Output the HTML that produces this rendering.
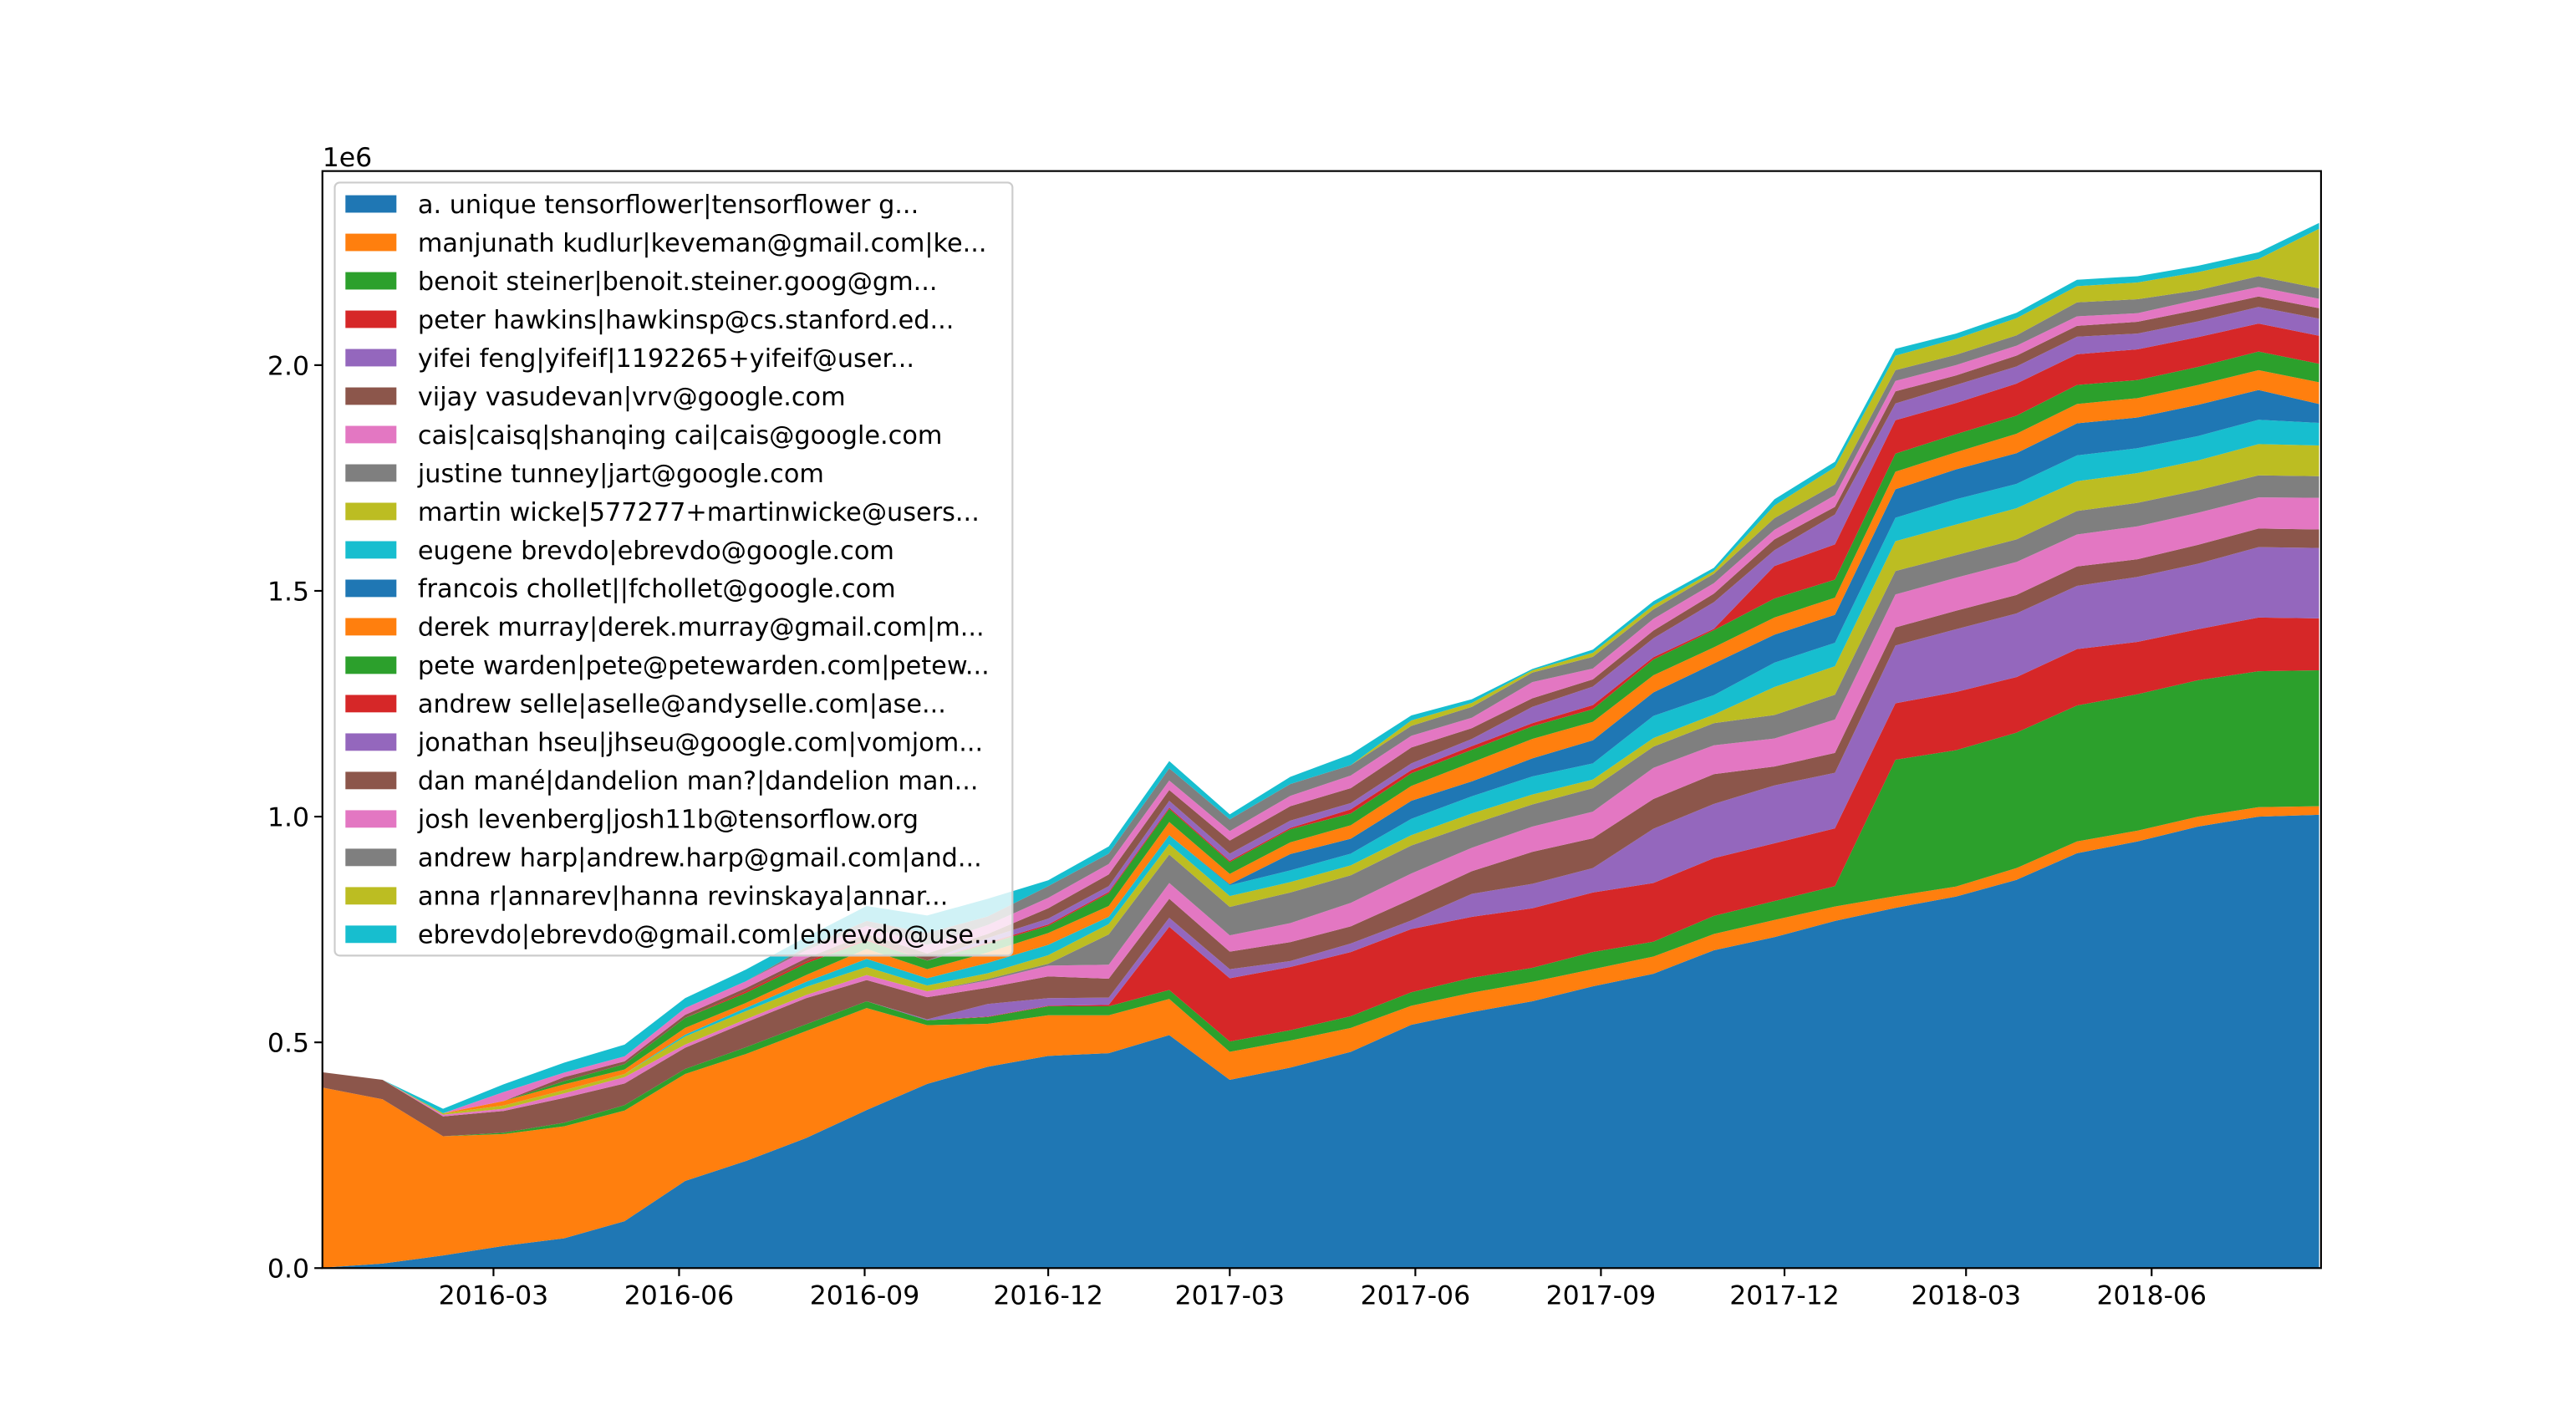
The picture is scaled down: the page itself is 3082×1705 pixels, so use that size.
<!DOCTYPE html>
<html><head><meta charset="utf-8"><style>
html,body{margin:0;padding:0;background:#fff;}
svg{display:block;font-family:"DejaVu Sans","Liberation Sans",sans-serif;}
</style></head><body>
<svg id="chart" width="3082" height="1705" viewBox="0 0 1566 866.4" preserveAspectRatio="none" xmlns="http://www.w3.org/2000/svg">
<rect x="0" y="0" width="1566" height="866.4" fill="#fff"/>
<g id="areas"></g>
<g id="axes"></g>
<g id="legend"></g>
</svg>
<script>
const dates = ["2015-12-07","2016-01-06","2016-02-05","2016-03-06","2016-04-05","2016-05-05","2016-06-04","2016-07-04","2016-08-03","2016-09-02","2016-10-02","2016-11-01","2016-12-01","2016-12-31","2017-01-30","2017-03-01","2017-03-31","2017-04-30","2017-05-30","2017-06-29","2017-07-29","2017-08-28","2017-09-27","2017-10-27","2017-11-26","2017-12-26","2018-01-25","2018-02-24","2018-03-26","2018-04-25","2018-05-25","2018-06-24","2018-07-24","2018-08-23"];
// values in thousands of lines
const s0  = [1,10,28,49,66,104,193,237,288,350,408,446,470,476,516,417,444,479,539,567,591,624,652,704,733,769,798,823,860,919,945,978,1000,1004];
const s1  = [399,364,264,248,248,245,237,237,237,226,130,95,90,84,80,62,60,53,42,43,43,38,38,36,38,32,26,22,26,26,24,22,21,19];
const s2  = [0,0,0,3,8,12,11,15,15,15,11,15,20,20,20,23,23,26,30,33,31,38,33,40,42,45,302,302,300,301,302,302,301,301];
const s3  = [0,0,0,0,0,0,0,0,0,0,0,1,1,3,140,140,140,142,140,135,132,132,130,128,128,128,125,129,123,125,116,113,119,115];
const s4  = [0,0,0,0,0,0,0,0,0,0,2,28,17,16,20,20,13,19,19,51,54,54,120,120,128,123,128,139,141,140,144,145,156,156];
const s5  = [34,43,44,48,55,48,47,55,58,47,49,36,48,42,42,39,42,38,47,50,71,66,66,66,42,44,40,41,41,43,39,42,41,41];
const s6  = [0,0,4,5,10,14,7,7,7,11,13,16,24,31,35,36,42,52,57,52,56,59,69,64,62,74,73,73,73,71,73,71,69,70];
const s7  = [0,0,0,0,0,0,0,0,0,0,0,3,4,67,63,63,68,61,62,52,49,52,47,49,52,55,52,50,50,52,52,50,49,48];
const s8  = [0,0,3,7,7,7,18,18,18,18,13,13,19,23,23,24,23,22,23,24,22,19,19,19,62,63,66,68,69,66,66,66,69,68];
const s9  = [0,0,0,0,0,0,4,7,11,18,16,23,23,16,20,24,26,26,36,38,40,36,49,43,54,52,52,56,54,57,55,54,54,50];
const s10 = [0,0,0,0,0,0,0,0,0,0,0,0,0,0,0,2,36,33,40,33,40,51,52,70,62,62,63,66,68,71,68,69,66,42];
const s11 = [0,0,0,10,13,10,15,11,15,22,20,23,26,24,29,23,26,30,33,42,43,41,38,36,38,38,39,38,43,43,43,44,44,48];
const s12 = [0,0,0,0,7,12,22,22,26,18,19,19,16,28,29,26,29,26,28,28,28,28,35,38,42,40,40,40,40,42,40,40,41,41];
const s13 = [0,0,0,0,0,0,0,4,4,4,0,3,3,3,3,3,3,9,7,8,7,9,5,3,72,78,74,69,71,68,68,66,62,62];
const s14 = [0,0,0,0,0,0,0,0,0,0,0,10,13,13,15,16,16,14,15,16,36,41,42,59,35,66,37,40,38,39,35,35,37,38];
const s15 = [0,0,0,0,9,6,7,7,7,11,16,9,23,26,24,29,32,33,35,24,19,16,17,19,24,17,27,21,24,24,26,26,23,23];
const s16 = [0,0,0,20,10,11,15,15,18,18,19,20,23,23,21,21,23,28,26,23,36,24,26,23,21,26,23,23,22,21,19,22,21,21];
const s17 = [0,0,0,0,0,0,0,0,7,11,26,19,26,23,27,26,26,23,22,24,21,26,21,21,26,24,24,23,23,31,31,21,24,23];
const s18 = [0,0,0,0,0,0,0,0,0,0,0,0,0,0,0,0,0,0,12,9,5,9,9,6,28,38,32,35,38,36,37,40,38,132];
const s19 = [0,0,10,17,22,26,22,26,22,33,39,39,13,16,16,11,16,24,11,8,3,7,9,7,14,12,15,12,12,14,14,14,15,13];
const seriesNames = ["a. unique tensorflower|tensorflower g...","manjunath kudlur|keveman@gmail.com|ke...","benoit steiner|benoit.steiner.goog@gm...","peter hawkins|hawkinsp@cs.stanford.ed...","yifei feng|yifeif|1192265+yifeif@user...","vijay vasudevan|vrv@google.com","cais|caisq|shanqing cai|cais@google.com","justine tunney|jart@google.com","martin wicke|577277+martinwicke@users...","eugene brevdo|ebrevdo@google.com","francois chollet||fchollet@google.com","derek murray|derek.murray@gmail.com|m...","pete warden|pete@petewarden.com|petew...","andrew selle|aselle@andyselle.com|ase...","jonathan hseu|jhseu@google.com|vomjom...","dan mané|dandelion man?|dandelion man...","josh levenberg|josh11b@tensorflow.org","andrew harp|andrew.harp@gmail.com|and...","anna r|annarev|hanna revinskaya|annar...","ebrevdo|ebrevdo@gmail.com|ebrevdo@use..."];
const xTickDates = ["2016-03-01","2016-06-01","2016-09-01","2016-12-01","2017-03-01","2017-06-01","2017-09-01","2017-12-01","2018-03-01","2018-06-01"];
const xTickLabels = ["2016-03","2016-06","2016-09","2016-12","2017-03","2017-06","2017-09","2017-12","2018-03","2018-06"];
const yTicks = [0,500,1000,1500,2000];
const yTickLabels = ["0.0","0.5","1.0","1.5","2.0"];

const series = [s0,s1,s2,s3,s4,s5,s6,s7,s8,s9,s10,s11,s12,s13,s14,s15,s16,s17,s18,s19];
const colors = ["#1f77b4","#ff7f0e","#2ca02c","#d62728","#9467bd","#8c564b","#e377c2","#7f7f7f","#bcbd22","#17becf"];
const NS = "http://www.w3.org/2000/svg";
const L=196, R=1411, T=104, B=771;
const ref = Date.UTC(2016,2,1);
function dayNum(s){const p=s.split("-").map(Number);return (Date.UTC(p[0],p[1]-1,p[2])-ref)/86400000;}
function xs(s){return 300 + dayNum(s)*1.2263;}
function ys(v){return B - v/1000*274.5;}
function mk(tag,attrs,parent){const e=document.createElementNS(NS,tag);for(const k in attrs)e.setAttribute(k,attrs[k]);parent.appendChild(e);return e;}
function slug(s){return s.split("|")[0].toLowerCase().replace(/[^a-z0-9]+/g,"-").replace(/^-|-$/g,"");}

const areas=document.getElementById("areas");
const cum = dates.map(()=>0);
series.forEach((vals,si)=>{
  const bottom = cum.slice();
  for(let i=0;i<dates.length;i++) cum[i]+=vals[i];
  let pts=[];
  for(let i=0;i<dates.length;i++) pts.push(xs(dates[i]).toFixed(2)+","+ys(cum[i]).toFixed(2));
  for(let i=dates.length-1;i>=0;i--) pts.push(xs(dates[i]).toFixed(2)+","+ys(bottom[i]).toFixed(2));
  const p=mk("polygon",{points:pts.join(" "),fill:colors[si%10],stroke:"none"},areas);
  
  
});

const axes=document.getElementById("axes");
xTickDates.forEach((d,i)=>{
  const x=xs(d);
  const t=mk("line",{x1:x,x2:x,y1:B,y2:B+4.9,stroke:"#000","stroke-width":1.1},axes);
  
  
  const tx=mk("text",{x:x,y:B+22,"font-size":16,"text-anchor":"middle",fill:"#000"},axes);
  tx.textContent=xTickLabels[i];
  
  
});
yTicks.forEach((v,i)=>{
  const y=ys(v);
  const t=mk("line",{x1:L-4.9,x2:L,y1:y,y2:y,stroke:"#000","stroke-width":1.1},axes);
  
  
  const tx=mk("text",{x:L-8,y:y+5.8,"font-size":16,"text-anchor":"end",fill:"#000"},axes);
  tx.textContent=yTickLabels[i];
  
  
});
const off=mk("text",{x:L,y:T-3,"font-size":16,fill:"#000"},axes);
off.textContent="1e6";


const frame=mk("rect",{x:L,y:T,width:R-L,height:B-T,fill:"none",stroke:"#000","stroke-width":1.1},axes);



const lg=document.getElementById("legend");
const box=mk("rect",{x:203.5,y:111,width:412,height:470,rx:3,fill:"#fff","fill-opacity":0.8,stroke:"#cccccc","stroke-width":1.1},lg);


seriesNames.forEach((n,i)=>{
  const y=124+i*23.37;
  const g=mk("g",{},lg);
  
  
  const sw=mk("rect",{x:210,y:y-5.3,width:31,height:10.6,fill:colors[i%10]},g);
  
  
  const tx=mk("text",{x:254,y:y+5.5,"font-size":15.4,fill:"#000"},g);
  tx.textContent=n;
  
  
});
</script>
</body></html>
